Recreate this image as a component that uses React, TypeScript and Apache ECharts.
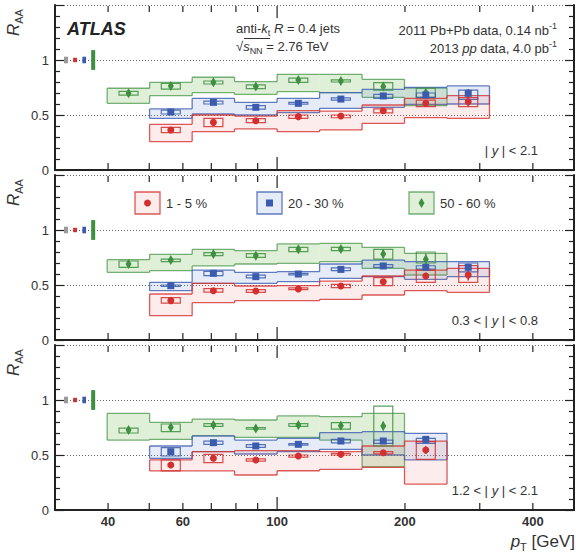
import React, { useEffect, useRef } from "react";
import * as echarts from "echarts";

// ---- binning (pT in GeV) ----
const binLo = [39.8, 50.1, 63.1, 79.4, 100.0, 125.9, 158.5, 199.5, 251.2];
const binHi = [50.1, 63.1, 79.4, 100.0, 125.9, 158.5, 199.5, 251.2, 316.2];
const binCenter = [44.7, 56.2, 70.8, 89.1, 112.2, 141.3, 177.8, 223.9, 281.8];

// rows: [bin, R_AA, stat, uncorrSysLo, uncorrSysHi, corrSysLo, corrSysHi]
// |y| < 2.1
const rapAll_c1to5 = [
  [1, 0.364, 0.010, 0.339, 0.388, 0.258, 0.415],
  [2, 0.433, 0.010, 0.394, 0.470, 0.348, 0.500],
  [3, 0.448, 0.010, 0.430, 0.467, 0.373, 0.490],
  [4, 0.485, 0.010, 0.470, 0.500, 0.348, 0.540],
  [5, 0.491, 0.012, 0.475, 0.500, 0.364, 0.536],
  [6, 0.539, 0.015, 0.520, 0.555, 0.424, 0.591],
  [7, 0.606, 0.020, 0.576, 0.636, 0.476, 0.652],
  [8, 0.621, 0.045, 0.576, 0.658, 0.470, 0.676],
];
const rapAll_c20to30 = [
  [1, 0.527, 0.010, 0.509, 0.545, 0.470, 0.555],
  [2, 0.615, 0.010, 0.600, 0.627, 0.509, 0.652],
  [3, 0.570, 0.010, 0.553, 0.585, 0.500, 0.615],
  [4, 0.606, 0.010, 0.598, 0.615, 0.521, 0.652],
  [5, 0.645, 0.012, 0.635, 0.655, 0.561, 0.703],
  [6, 0.673, 0.015, 0.652, 0.688, 0.570, 0.733],
  [7, 0.682, 0.025, 0.660, 0.700, 0.597, 0.752],
  [8, 0.697, 0.040, 0.642, 0.727, 0.600, 0.764],
];
const rapAll_c50to60 = [
  [0, 0.697, 0.012, 0.680, 0.715, 0.606, 0.743],
  [1, 0.764, 0.015, 0.736, 0.788, 0.676, 0.797],
  [2, 0.797, 0.015, 0.782, 0.809, 0.703, 0.843],
  [3, 0.758, 0.015, 0.739, 0.773, 0.688, 0.803],
  [4, 0.818, 0.015, 0.797, 0.836, 0.712, 0.870],
  [5, 0.809, 0.018, 0.800, 0.820, 0.703, 0.870],
  [6, 0.758, 0.020, 0.727, 0.794, 0.661, 0.824],
  [7, 0.703, 0.030, 0.660, 0.745, 0.585, 0.745],
];
// 0.3 < |y| < 0.8
const rapMid_c1to5 = [
  [1, 0.358, 0.010, 0.336, 0.385, 0.221, 0.418],
  [2, 0.448, 0.010, 0.436, 0.467, 0.339, 0.515],
  [3, 0.445, 0.010, 0.433, 0.458, 0.358, 0.491],
  [4, 0.464, 0.010, 0.458, 0.473, 0.358, 0.494],
  [5, 0.491, 0.012, 0.476, 0.506, 0.370, 0.536],
  [6, 0.530, 0.015, 0.494, 0.567, 0.409, 0.582],
  [7, 0.582, 0.030, 0.524, 0.636, 0.448, 0.636],
  [8, 0.591, 0.050, 0.524, 0.676, 0.433, 0.652],
];
const rapMid_c20to30 = [
  [1, 0.494, 0.010, 0.487, 0.500, 0.448, 0.524],
  [2, 0.606, 0.010, 0.585, 0.624, 0.515, 0.636],
  [3, 0.576, 0.010, 0.565, 0.590, 0.515, 0.615],
  [4, 0.600, 0.010, 0.594, 0.606, 0.530, 0.621],
  [5, 0.642, 0.012, 0.630, 0.655, 0.561, 0.691],
  [6, 0.673, 0.015, 0.660, 0.685, 0.576, 0.727],
  [7, 0.661, 0.025, 0.645, 0.675, 0.552, 0.712],
  [8, 0.661, 0.035, 0.620, 0.700, 0.576, 0.712],
];
const rapMid_c50to60 = [
  [0, 0.690, 0.012, 0.661, 0.718, 0.615, 0.730],
  [1, 0.727, 0.012, 0.712, 0.736, 0.630, 0.779],
  [2, 0.782, 0.012, 0.767, 0.794, 0.673, 0.824],
  [3, 0.767, 0.012, 0.752, 0.785, 0.691, 0.812],
  [4, 0.824, 0.015, 0.803, 0.842, 0.697, 0.873],
  [5, 0.827, 0.015, 0.812, 0.842, 0.712, 0.879],
  [6, 0.782, 0.040, 0.736, 0.824, 0.651, 0.842],
  [7, 0.733, 0.050, 0.700, 0.800, 0.591, 0.788],
];
// 1.2 < |y| < 2.1
const rapFwd_c1to5 = [
  [1, 0.409, 0.010, 0.355, 0.455, 0.355, 0.455],
  [2, 0.470, 0.010, 0.430, 0.506, 0.355, 0.530],
  [3, 0.455, 0.010, 0.445, 0.465, 0.318, 0.539],
  [4, 0.491, 0.012, 0.480, 0.500, 0.357, 0.539],
  [5, 0.506, 0.012, 0.500, 0.515, 0.370, 0.530],
  [6, 0.521, 0.015, 0.510, 0.530, 0.388, 0.582],
  [7, 0.545, 0.035, 0.461, 0.621, 0.236, 0.627],
];
const rapFwd_c20to30 = [
  [1, 0.530, 0.012, 0.491, 0.567, 0.470, 0.582],
  [2, 0.612, 0.010, 0.597, 0.627, 0.530, 0.673],
  [3, 0.582, 0.010, 0.570, 0.594, 0.509, 0.636],
  [4, 0.597, 0.010, 0.592, 0.603, 0.530, 0.652],
  [5, 0.627, 0.012, 0.610, 0.642, 0.552, 0.703],
  [6, 0.627, 0.015, 0.606, 0.636, 0.500, 0.712],
  [7, 0.642, 0.030, 0.606, 0.652, 0.455, 0.697],
];
const rapFwd_c50to60 = [
  [0, 0.727, 0.012, 0.700, 0.745, 0.636, 0.879],
  [1, 0.752, 0.015, 0.712, 0.782, 0.642, 0.797],
  [2, 0.773, 0.012, 0.760, 0.785, 0.673, 0.827],
  [3, 0.742, 0.012, 0.735, 0.750, 0.661, 0.818],
  [4, 0.773, 0.015, 0.760, 0.785, 0.661, 0.855],
  [5, 0.767, 0.015, 0.736, 0.794, 0.636, 0.848],
  [6, 0.764, 0.040, 0.582, 0.945, 0.394, 0.879],
];

const panels = [
  [rapAll_c1to5, rapAll_c20to30, rapAll_c50to60],
  [rapMid_c1to5, rapMid_c20to30, rapMid_c50to60],
  [rapFwd_c1to5, rapFwd_c20to30, rapFwd_c50to60],
];
const panelLabels = ["| {i|y} | < 2.1", "0.3 < | {i|y} | < 0.8", "1.2 < | {i|y} | < 2.1"];
const centralityLabels = ["1 - 5 %", "20 - 30 %", "50 - 60 %"];

// normalisation uncertainties at R_AA = 1: pp luminosity, then T_AA per centrality
const normRef = 1.0;
const normPP = 0.03;
const normTAA = [0.02, 0.03, 0.09];

// axis ticks
const xMinorTicks = [40, 50, 60, 70, 80, 90, 200, 300, 400, 500];
const xDecadeTicks = [100];
const xTickLabels = [40, 60, 100, 200, 400];
const yMin = 0;
const yMax = 1.5;

// ---- styles / layout ----
const FONT = "'Liberation Sans', Arial, Helvetica, sans-serif";
const TXT = "#333";
const colors = [
  { dark: "#d42f2f", fill: "rgba(230,100,90,0.12)", stroke: "rgba(212,47,47,0.8)", symbol: "circle", size: 7 },
  { dark: "#3b5cae", fill: "rgba(100,140,210,0.17)", stroke: "rgba(59,92,174,0.8)", symbol: "rect", size: 7 },
  { dark: "#3d903f", fill: "rgba(130,190,100,0.25)", stroke: "rgba(61,144,63,0.7)", symbol: "diamond", size: [6, 10] },
];
const normBoxX = [
  [31.5, 32.2],
  [33.1, 33.8],
  [34.8, 35.5],
  [36.5, 37.3],
];
const normColors = ["#9a9a9a", colors[0].dark, colors[1].dark, colors[2].dark];
const gridTops = [5, 175, 345];
const frame = { color: "#222", width: 2 };
const tickLine = { color: "#222", width: 1.2 };

function buildOption() {
  const grid = gridTops.map((t) => ({ left: 55, top: t, width: 519, height: 165 }));
  const xAxis: any[] = [];
  const yAxis: any[] = [];
  const series: any[] = [];
  const graphic: any[] = [];

  gridTops.forEach((top, gi) => {
    const common = {
      type: "log",
      logBase: 10,
      min: 30,
      max: 500,
      gridIndex: gi,
      splitLine: { show: false },
      minorTick: { show: false },
      minorSplitLine: { show: false },
      axisTick: { show: false },
    };
    xAxis.push({
      ...common,
      position: "bottom",
      axisLine: { show: true, lineStyle: frame },
      axisLabel: {
        show: gi === 2,
        customValues: xTickLabels,
        formatter: (v: number) => String(Math.round(v)),
        fontSize: 13,
        fontWeight: "bold",
        fontFamily: FONT,
        color: TXT,
        margin: 5,
      },
    });
    xAxis.push({
      ...common,
      position: "top",
      axisLine: { show: true, lineStyle: frame },
      axisLabel: { show: false },
    });

    const yCommon = { type: "value", gridIndex: gi, min: yMin, max: yMax, interval: 0.5 };
    yAxis.push({
      ...yCommon,
      position: "left",
      axisLine: { show: true, lineStyle: frame },
      axisTick: { show: true, inside: true, length: 9, lineStyle: tickLine },
      minorTick: { show: true, splitNumber: 5, length: 5, lineStyle: tickLine },
      axisLabel: {
        formatter: (v: number) => (v > 1.2 ? "" : String(v)),
        fontSize: 13,
        fontFamily: FONT,
        color: TXT,
        margin: 6,
      },
      splitLine: { show: true, lineStyle: { type: [1, 2], color: "#666", width: 1 } },
    });
    yAxis.push({
      ...yCommon,
      position: "right",
      axisLine: { show: true, lineStyle: frame },
      axisTick: { show: true, inside: true, length: 9, lineStyle: tickLine },
      minorTick: { show: true, splitNumber: 5, length: 5, lineStyle: tickLine },
      axisLabel: { show: false },
      splitLine: { show: false },
    });

    const xi = gi * 2;
    const yi = gi * 2;
    const sets = panels[gi];

    // correlated systematics bands (full bin width, stepped outline)
    [2, 1, 0].forEach((ci) => {
      const c = colors[ci];
      const rows = sets[ci];
      series.push({
        type: "custom",
        xAxisIndex: xi,
        yAxisIndex: yi,
        silent: true,
        z: 2,
        data: rows.map((r) => [binLo[r[0]], binHi[r[0]], r[5], r[6]]),
        encode: { x: [0, 1], y: [2, 3] },
        renderItem: (params: any, api: any) => {
          const k = params.dataIndex;
          const a = api.coord([api.value(0), api.value(3)]);
          const b = api.coord([api.value(1), api.value(2)]);
          const x0 = a[0], x1 = b[0], yt = a[1], yb = b[1];
          const ls = { stroke: c.stroke, lineWidth: 1.3 };
          const children: any[] = [
            { type: "rect", shape: { x: x0, y: yt, width: x1 - x0, height: yb - yt }, style: { fill: c.fill } },
            { type: "line", shape: { x1: x0, y1: yt, x2: x1, y2: yt }, style: ls },
            { type: "line", shape: { x1: x0, y1: yb, x2: x1, y2: yb }, style: ls },
          ];
          const prev = k > 0 ? rows[k - 1] : null;
          if (prev && prev[0] === rows[k][0] - 1) {
            const pt = api.coord([api.value(0), prev[6]]);
            const pb = api.coord([api.value(0), prev[5]]);
            children.push({ type: "line", shape: { x1: x0, y1: pt[1], x2: x0, y2: yt }, style: ls });
            children.push({ type: "line", shape: { x1: x0, y1: pb[1], x2: x0, y2: yb }, style: ls });
          } else {
            children.push({ type: "line", shape: { x1: x0, y1: yt, x2: x0, y2: yb }, style: ls });
          }
          const next = k < rows.length - 1 ? rows[k + 1] : null;
          if (!next || next[0] !== rows[k][0] + 1) {
            children.push({ type: "line", shape: { x1: x1, y1: yt, x2: x1, y2: yb }, style: ls });
          }
          return { type: "group", children };
        },
      });
    });
    // uncorrelated systematics (open boxes)
    [2, 1, 0].forEach((ci) => {
      const c = colors[ci];
      series.push({
        type: "custom",
        xAxisIndex: xi,
        yAxisIndex: yi,
        silent: true,
        z: 3,
        data: sets[ci].map((r) => [binCenter[r[0]], r[3], r[4]]),
        encode: { x: 0, y: [1, 2] },
        renderItem: (params: any, api: any) => {
          const hi = api.coord([api.value(0), api.value(2)]);
          const lo = api.coord([api.value(0), api.value(1)]);
          return {
            type: "rect",
            shape: { x: hi[0] - 9.5, y: hi[1], width: 19, height: Math.max(lo[1] - hi[1], 1.5) },
            style: { fill: "none", stroke: c.dark, lineWidth: 1.2, opacity: 0.85 },
          };
        },
      });
    });
    // statistical error bars
    [2, 1, 0].forEach((ci) => {
      const c = colors[ci];
      series.push({
        type: "custom",
        xAxisIndex: xi,
        yAxisIndex: yi,
        silent: true,
        z: 4,
        data: sets[ci].map((r) => [binCenter[r[0]], r[1] - r[2], r[1] + r[2]]),
        encode: { x: 0, y: [1, 2] },
        renderItem: (params: any, api: any) => {
          const hi = api.coord([api.value(0), api.value(2)]);
          const lo = api.coord([api.value(0), api.value(1)]);
          return {
            type: "line",
            shape: { x1: hi[0], y1: hi[1], x2: lo[0], y2: lo[1] },
            style: { stroke: c.dark, lineWidth: 1.5 },
          };
        },
      });
    });
    // markers
    [2, 1, 0].forEach((ci) => {
      const c = colors[ci];
      series.push({
        type: "scatter",
        name: centralityLabels[ci],
        xAxisIndex: xi,
        yAxisIndex: yi,
        silent: true,
        z: 5,
        symbol: c.symbol,
        symbolSize: c.size,
        itemStyle: { color: c.dark, opacity: 1 },
        data: sets[ci].map((r) => [binCenter[r[0]], r[1]]),
      });
    });
    // normalisation boxes at R_AA = 1
    series.push({
      type: "custom",
      xAxisIndex: xi,
      yAxisIndex: yi,
      silent: true,
      z: 4,
      data: [normPP, ...normTAA].map((u, k) => [k, normRef - u, normRef + u]),
      renderItem: (params: any, api: any) => {
        const k = api.value(0);
        const a = api.coord([normBoxX[k][0], api.value(2)]);
        const b = api.coord([normBoxX[k][1], api.value(1)]);
        return {
          type: "rect",
          shape: { x: a[0], y: a[1], width: b[0] - a[0], height: b[1] - a[1] },
          style: { fill: normColors[k] },
        };
      },
    });
    // x-axis tick marks (bottom and top, pointing inwards) placed via the log axis
    series.push({
      type: "custom",
      xAxisIndex: xi,
      yAxisIndex: yi,
      silent: true,
      z: 10,
      clip: false,
      data: [...xMinorTicks, ...xDecadeTicks].map((v) => [v, yMin, yMax]),
      encode: { x: 0, y: [1, 2] },
      renderItem: (params: any, api: any) => {
        const v = api.value(0);
        const len = xDecadeTicks.indexOf(v) >= 0 ? 12 : 6;
        const b = api.coord([v, api.value(1)]);
        const t = api.coord([v, api.value(2)]);
        const st = { stroke: tickLine.color, lineWidth: tickLine.width };
        return {
          type: "group",
          children: [
            { type: "line", shape: { x1: b[0], y1: b[1] - 1, x2: b[0], y2: b[1] - 1 - len }, style: st },
            { type: "line", shape: { x1: t[0], y1: t[1] + 1, x2: t[0], y2: t[1] + 1 + len }, style: st },
          ],
        };
      },
    });

    // panel rapidity label
    graphic.push({
      type: "text",
      x: 538,
      y: top + 145,
      z: 100,
      style: {
        text: panelLabels[gi],
        fontSize: 13,
        fontFamily: FONT,
        fill: TXT,
        align: "right",
        textAlign: "right",
        verticalAlign: "middle",
        textVerticalAlign: "middle",
        lineHeight: 18,
        rich: { i: { fontSize: 13, fontFamily: FONT, fontStyle: "italic", fill: TXT, lineHeight: 18 } },
      },
    });
    // y-axis title
    graphic.push({
      type: "text",
      x: 13,
      y: top + 31,
      rotation: Math.PI / 2,
      z: 100,
      style: {
        text: "{r|R}{s|AA}",
        align: "left",
        textAlign: "left",
        verticalAlign: "middle",
        textVerticalAlign: "middle",
        rich: {
          r: { fontSize: 17, fontStyle: "italic", fontFamily: FONT, fill: TXT, lineHeight: 22 },
          s: { fontSize: 11, fontFamily: FONT, fill: TXT, lineHeight: 11, verticalAlign: "bottom" },
        },
      },
    });
  });

  const rich13 = {
    i: { fontSize: 13, fontStyle: "italic", fontFamily: FONT, fill: TXT, lineHeight: 18 },
    sub: { fontSize: 9, fontFamily: FONT, fill: TXT, lineHeight: 9, verticalAlign: "bottom" },
    sup: { fontSize: 9, fontFamily: FONT, fill: TXT, lineHeight: 9, verticalAlign: "top" },
  };
  const txt = (text: string, x: number, y: number, align: string, extra: any = {}) => ({
    type: "text",
    x,
    y,
    z: 100,
    style: {
      text,
      fontSize: 13,
      fontFamily: FONT,
      fill: TXT,
      lineHeight: 18,
      align,
      textAlign: align,
      verticalAlign: "middle",
      textVerticalAlign: "middle",
      rich: rich13,
      ...extra,
    },
  });

  graphic.push(
    txt("ATLAS", 67, 29, "left", { fontSize: 18, fontWeight: "bold", fontStyle: "italic", fill: "#222" }),
    txt("anti-{i|k}{sub|t} {i|R} = 0.4 jets", 236, 28, "left"),
    txt("√{i|s}{sub|NN} = 2.76 TeV", 236, 46, "left"),
    txt("2011 Pb+Pb data, 0.14 nb{sup|-1}", 557, 30, "right"),
    txt("2013 {i|pp} data, 4.0 pb{sup|-1}", 557, 48, "right"),
    {
      type: "line",
      z: 100,
      shape: { x1: 244, y1: 38.5, x2: 270, y2: 38.5 },
      style: { stroke: TXT, lineWidth: 1 },
    },
    {
      type: "text",
      x: 575,
      y: 541,
      z: 100,
      style: {
        text: "{i|p}{sub|T} [GeV]",
        fontSize: 17,
        fontFamily: FONT,
        fill: TXT,
        lineHeight: 22,
        align: "right",
        textAlign: "right",
        verticalAlign: "middle",
        textVerticalAlign: "middle",
        rich: {
          i: { fontSize: 17, fontStyle: "italic", fontFamily: FONT, fill: TXT, lineHeight: 22 },
          sub: { fontSize: 11, fontFamily: FONT, fill: TXT, lineHeight: 11, verticalAlign: "bottom" },
        },
      },
    }
  );

  // legend in middle panel
  const legendBoxX = [135, 257, 409];
  const ly = 192;
  legendBoxX.forEach((lx, ci) => {
    const c = colors[ci];
    const cx = lx + 12.5;
    const cy = ly + 11;
    graphic.push({
      type: "rect",
      z: 100,
      shape: { x: lx, y: ly, width: 25, height: 22 },
      style: { fill: c.fill, stroke: c.stroke, lineWidth: 1.3 },
    });
    if (ci === 0) {
      graphic.push({ type: "circle", z: 101, shape: { cx, cy, r: 3.5 }, style: { fill: c.dark } });
    } else if (ci === 1) {
      graphic.push({ type: "rect", z: 101, shape: { x: cx - 3.5, y: cy - 3.5, width: 7, height: 7 }, style: { fill: c.dark } });
    } else {
      graphic.push({
        type: "polygon",
        z: 101,
        shape: { points: [[cx, cy - 5], [cx + 3, cy], [cx, cy + 5], [cx - 3, cy]] },
        style: { fill: c.dark },
      });
    }
    graphic.push(txt(centralityLabels[ci], lx + 31, cy, "left"));
  });

  return {
    animation: false,
    backgroundColor: "#fff",
    grid,
    xAxis,
    yAxis,
    series,
    graphic,
  };
}

export default function App() {
  const ref = useRef<HTMLDivElement>(null);
  useEffect(() => {
    const chart = echarts.init(ref.current!, null, { renderer: "svg" });
    chart.setOption(buildOption() as any);
    return () => chart.dispose();
  }, []);
  return (
    <div
      ref={ref}
      style={{ position: "fixed", left: 0, top: 0, width: 576, height: 560, background: "#fff" }}
    />
  );
}
